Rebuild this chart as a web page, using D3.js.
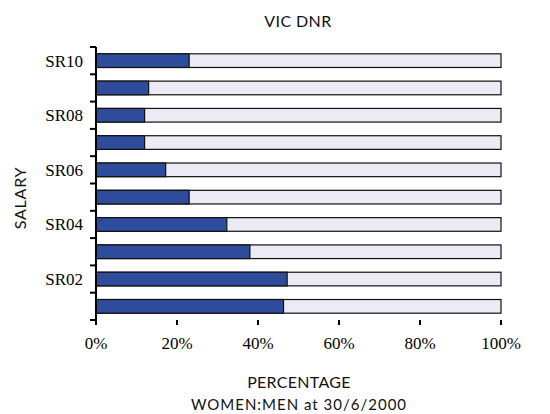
<!DOCTYPE html>
<html>
<head>
<meta charset="utf-8">
<script src="https://cdn.jsdelivr.net/npm/d3@7"></script>
<style>
  body { margin: 0; background: #fff; }
  .sans { font-family: Lato, "Open Sans", sans-serif; fill: #111; }
</style>
</head>
<body>
<script>
var categories = ["SR10", "SR09", "SR08", "SR07", "SR06", "SR05", "SR04", "SR03", "SR02", "SR01"];
var women = [23, 13, 12, 12, 17.2, 23, 32.3, 38, 47.2, 46.3];
var xTicks = [0, 20, 40, 60, 80, 100];
var shownLabels = ["SR10", "SR08", "SR06", "SR04", "SR02"];

var width = 550,
    height = 414,
    plotLeft = 96, plotRight = 501,
    plotTop = 47, plotBottom = 320;

var svg = d3.select("body").append("svg")
    .attr("width", width)
    .attr("height", height);

var x = d3.scaleLinear().domain([0, 100]).range([plotLeft, plotRight]);
var y = d3.scaleBand().domain(categories).range([plotTop, plotBottom]).paddingInner(0.5).paddingOuter(0.25);

var rows = svg.selectAll("g.row")
    .data(categories)
    .enter().append("g")
    .attr("class", "row");

// men (light, full width)
rows.append("rect")
    .attr("x", x(0))
    .attr("y", function(d) { return y(d); })
    .attr("width", x(100) - x(0))
    .attr("height", y.bandwidth())
    .attr("fill", "#ecebf5")
    .attr("stroke", "#111")
    .attr("stroke-width", 1.2);

// women
rows.append("rect")
    .attr("x", x(0))
    .attr("y", function(d) { return y(d); })
    .attr("width", function(d, i) { return x(women[i]) - x(0); })
    .attr("height", y.bandwidth())
    .attr("fill", "#2f4b9c")
    .attr("stroke", "#111")
    .attr("stroke-width", 1.2);

// y axis line and boundary ticks
var step = (plotBottom - plotTop) / categories.length;
svg.append("line")
    .attr("x1", plotLeft).attr("x2", plotLeft)
    .attr("y1", plotTop).attr("y2", plotBottom)
    .attr("stroke", "#000").attr("stroke-width", 2);
svg.selectAll("line.ytick")
    .data(d3.range(categories.length + 1))
    .enter().append("line")
    .attr("class", "ytick")
    .attr("x1", plotLeft - 6).attr("x2", plotLeft)
    .attr("y1", function(d) { return plotTop + d * step; })
    .attr("y2", function(d) { return plotTop + d * step; })
    .attr("stroke", "#000").attr("stroke-width", 2);

svg.selectAll("text.ylab")
    .data(shownLabels)
    .enter().append("text")
    .attr("class", "ylab")
    .attr("x", plotLeft - 13)
    .attr("y", function(d) { return y(d) + y.bandwidth() / 2; })
    .attr("dy", "0.35em")
    .attr("text-anchor", "end")
    .style("font-family", "'Liberation Serif', serif")
    .style("font-size", "17px")
    .text(function(d) { return d; });

// x axis ticks
svg.selectAll("line.xtick")
    .data(xTicks)
    .enter().append("line")
    .attr("class", "xtick")
    .attr("x1", function(d) { return x(d); })
    .attr("x2", function(d) { return x(d); })
    .attr("y1", plotBottom).attr("y2", plotBottom + 5)
    .attr("stroke", "#000").attr("stroke-width", 2);

svg.selectAll("text.xlab")
    .data(xTicks)
    .enter().append("text")
    .attr("class", "xlab")
    .attr("x", function(d) { return x(d); })
    .attr("y", 349)
    .attr("text-anchor", "middle")
    .style("font-family", "'Liberation Serif', serif")
    .style("font-size", "17px")
    .text(function(d) { return d + "%"; });

svg.append("text")
    .attr("class", "sans")
    .attr("x", 298).attr("y", 27)
    .attr("text-anchor", "middle")
    .style("font-size", "16px")
    .style("letter-spacing", "0.4px")
    .text("VIC DNR");

svg.append("text")
    .attr("class", "sans")
    .attr("x", 299).attr("y", 388)
    .attr("text-anchor", "middle")
    .style("font-size", "16px")
    .style("letter-spacing", "0.3px")
    .text("PERCENTAGE");

svg.append("text")
    .attr("class", "sans")
    .attr("x", 299).attr("y", 410)
    .attr("text-anchor", "middle")
    .style("font-size", "15px")
    .style("letter-spacing", "1px")
    .text("WOMEN:MEN at 30/6/2000");

svg.append("text")
    .attr("class", "sans")
    .attr("transform", "translate(26,198) rotate(-90)")
    .attr("text-anchor", "middle")
    .style("font-size", "16px")
    .style("letter-spacing", "0.8px")
    .text("SALARY");
</script>
</body>
</html>
